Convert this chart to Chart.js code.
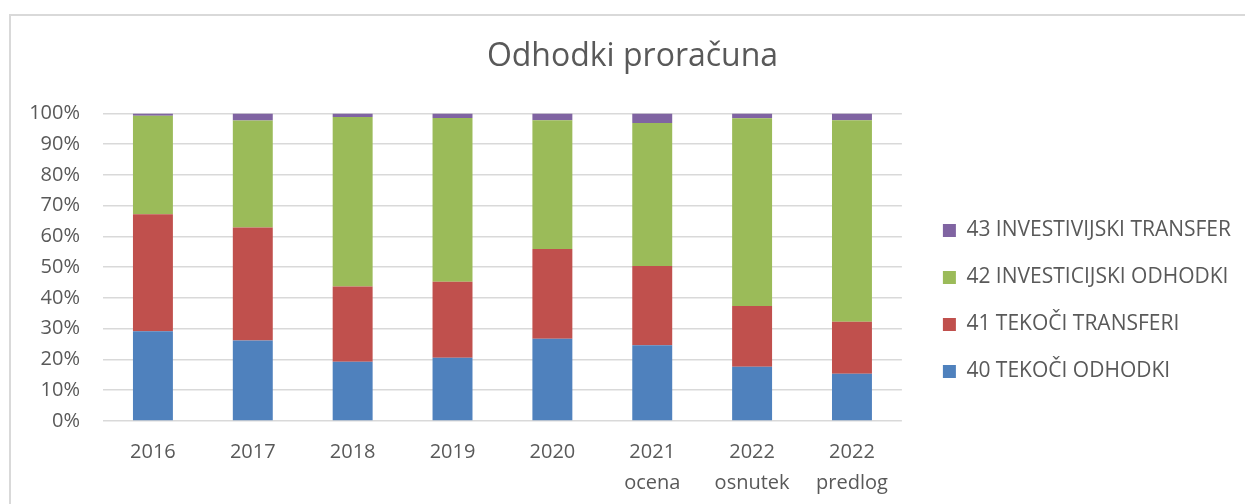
<!DOCTYPE html>
<html>
<head>
<meta charset="utf-8">
<title>Odhodki proračuna</title>
<script src="https://cdn.jsdelivr.net/npm/chart.js@4.4.1/dist/chart.umd.min.js"></script>
<style>
    html, body { margin: 0; padding: 0; background: #ffffff; }
    #chartBox { width: 1245px; height: 504px; }
</style>
</head>
<body>
<div id="chartBox"><canvas id="expenseChart" width="1245" height="504"></canvas></div>
<script>
// categories (x axis, two-line labels)
const categories = [
    ['2016'],
    ['2017'],
    ['2018'],
    ['2019'],
    ['2020'],
    ['2021', 'ocena'],
    ['2022', 'osnutek'],
    ['2022', 'predlog']
];

// shares in % of total (100% stacked)
const tekociOdhodki = [29.2, 26.2, 19.3, 20.6, 26.7, 24.6, 17.6, 15.4];
const tekociTransferi = [38.0, 36.7, 24.4, 24.7, 29.2, 25.8, 19.8, 16.9];
const investicijskiOdhodki = [32.0, 34.8, 55.1, 53.2, 41.9, 46.5, 61.0, 65.5];
const investicijskiTransferi = [0.8, 2.3, 1.2, 1.5, 2.2, 3.1, 1.6, 2.2];

const seriesNames = [
    '40 TEKOČI ODHODKI',
    '41 TEKOČI TRANSFERI',
    '42 INVESTICIJSKI ODHODKI',
    '43 INVESTIVIJSKI TRANSFER'
];

// y axis tick values
const yTicks = [0, 10, 20, 30, 40, 50, 60, 70, 80, 90, 100];

const colors = {
    blue: '#4f81bd',
    red: '#c0504d',
    green: '#9bbb59',
    purple: '#8064a2',
    text: '#595959',
    grid: '#d9d9d9'
};

const fontFamily = '"Open Sans", "DejaVu Sans", sans-serif';

// outer chart frame (Excel chart area border, runs off the right/bottom)
const framePlugin = {
    id: 'frame',
    beforeDraw(chart) {
        const ctx = chart.ctx;
        ctx.save();
        ctx.strokeStyle = colors.grid;
        ctx.lineWidth = 2;
        ctx.strokeRect(10, 15, 1400, 700);
        ctx.restore();
    }
};

// move legend away from the plot / down, and title to the Excel centre
const nudgePlugin = {
    id: 'nudge',
    afterLayout(chart) {
        chart.legend.left += 15;
        chart.legend.right += 15;
        chart.legend.top += 44;
        chart.legend.bottom += 44;
        chart.titleBlock.left += 5;
        chart.titleBlock.right += 5;
    }
};

function makeDataset(label, data, color) {
    return {
        label: label,
        data: data,
        backgroundColor: color,
        borderWidth: 0,
        barPercentage: 0.4,
        categoryPercentage: 1.0
    };
}

const ctx = document.getElementById('expenseChart').getContext('2d');
const chart = new Chart(ctx, {
    type: 'bar',
    data: {
        labels: categories,
        datasets: [
            makeDataset(seriesNames[0], tekociOdhodki, colors.blue),
            makeDataset(seriesNames[1], tekociTransferi, colors.red),
            makeDataset(seriesNames[2], investicijskiOdhodki, colors.green),
            makeDataset(seriesNames[3], investicijskiTransferi, colors.purple)
        ]
    },
    options: {
        responsive: false,
        animation: false,
        devicePixelRatio: 1,
        layout: {
            padding: { left: 29, right: 19, top: 18, bottom: 8 }
        },
        scales: {
            x: {
                stacked: true,
                grid: { display: false, drawTicks: false },
                border: { display: false },
                ticks: {
                    color: colors.text,
                    padding: 16,
                    maxRotation: 0,
                    font: { family: fontFamily, size: 20, lineHeight: 1.55 }
                },
                afterFit(scale) { scale.height = 75; }
            },
            y: {
                stacked: true,
                min: 0,
                max: 100,
                grid: { color: colors.grid, lineWidth: 1.5, drawTicks: false },
                border: { display: false },
                afterBuildTicks(scale) {
                    scale.ticks = yTicks.map(v => ({ value: v }));
                },
                afterFit(scale) { scale.width = 74; },
                ticks: {
                    color: colors.text,
                    padding: 23,
                    font: { family: fontFamily, size: 20 },
                    callback: v => v + '%'
                }
            }
        },
        plugins: {
            title: {
                display: true,
                text: 'Odhodki proračuna',
                color: colors.text,
                padding: { top: 20, bottom: 37 },
                font: { family: fontFamily, size: 32, weight: 'normal' }
            },
            legend: {
                position: 'right',
                reverse: true,
                maxWidth: 340,
                labels: {
                    color: colors.text,
                    boxWidth: 13,
                    boxHeight: 13,
                    padding: 26,
                    font: { family: fontFamily, size: 21 }
                }
            },
            tooltip: { enabled: false }
        }
    },
    plugins: [framePlugin, nudgePlugin]
});
</script>
</body>
</html>
